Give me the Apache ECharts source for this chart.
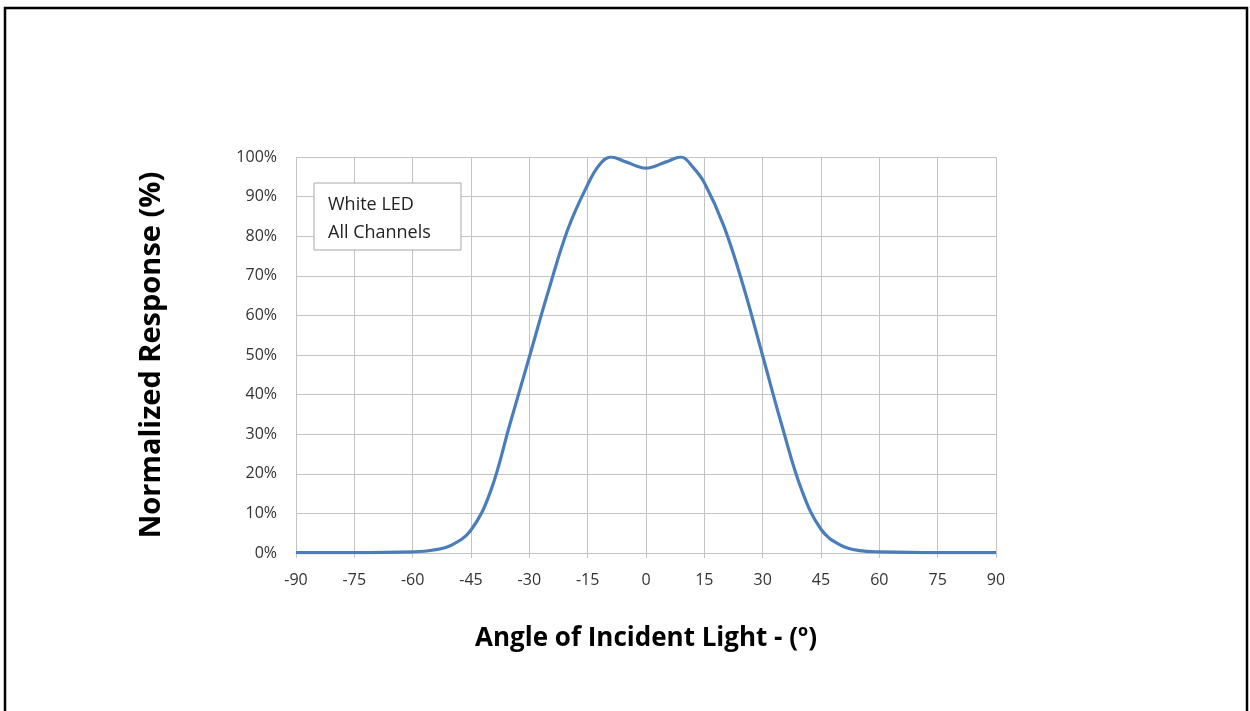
<!DOCTYPE html>
<html>
<head>
<meta charset="utf-8">
<script src="https://cdn.jsdelivr.net/npm/echarts@6/dist/echarts.min.js"></script>
<style>
html,body{margin:0;padding:0;background:#fff;}
#chart{width:1250px;height:711px;}
</style>
</head>
<body>
<div id="chart"></div>
<script>
var angles = [-90,-75,-60,-55,-50,-45,-40,-35,-30,-25,-20,-15,-12,-9,-5,0,5,9,12,15,20,25,30,35,40,45,50,55,60,75,90];
var response = [0.1,0.1,0.3,0.7,2.0,5.8,15.5,32.5,49.5,66.5,82,93,98,100,98.7,97.2,98.7,100,97.5,93.5,82.6,67.5,49.8,32,16,6,2.0,0.6,0.3,0.1,0.1];
var xTicks = {min:-90, max:90, step:15};
var yTicks = {min:0, max:100, step:10};
var seriesName = 'White LED All Channels';
var noteLines = ['White LED','All Channels'];
var xTitle = 'Angle of Incident Light - (º)';
var yTitle = 'Normalized Response (%)';

var points = angles.map(function(a,i){return [a,response[i]];});
var chart = echarts.init(document.getElementById('chart'), null, {renderer:'canvas'});
var gridColor = '#c3c3c3';
chart.setOption({
  animation:false,
  grid:{left:296,right:254,top:157,bottom:158,containLabel:false},
  xAxis:{
    type:'value',min:xTicks.min,max:xTicks.max,interval:xTicks.step,
    name:xTitle,nameLocation:'middle',nameGap:73,
    nameTextStyle:{fontFamily:'Open Sans',fontWeight:'bold',fontSize:26,color:'#000'},
    axisLine:{show:true,lineStyle:{color:gridColor,width:1}},
    axisTick:{show:true,length:5,lineStyle:{color:gridColor}},
    axisLabel:{margin:19,fontFamily:'Open Sans',fontSize:16,color:'#333'},
    splitLine:{show:true,lineStyle:{color:gridColor,width:1}}
  },
  yAxis:{
    type:'value',min:yTicks.min,max:yTicks.max,interval:yTicks.step,
    name:yTitle,nameLocation:'middle',nameGap:130,nameRotate:90,
    nameTextStyle:{fontFamily:'Open Sans',fontWeight:'bold',fontSize:29,color:'#000'},
    axisLine:{show:true,lineStyle:{color:gridColor,width:1}},
    axisTick:{show:false},
    axisLabel:{margin:19,fontFamily:'Open Sans',fontSize:16,color:'#333',formatter:'{value}%'},
    splitLine:{show:true,lineStyle:{color:gridColor,width:1}}
  },
  series:[{
    name:seriesName,type:'line',data:points,smooth:0.4,
    showSymbol:false,lineStyle:{color:'#4a7ebb',width:3.2},itemStyle:{color:'#4a7ebb'}
  }],
  graphic:[
    {type:'rect',shape:{x:5,y:8,width:1242,height:720},style:{fill:null,stroke:'#000',lineWidth:2.5},silent:true,z:100},
    {type:'rect',shape:{x:314,y:183,width:147,height:67},style:{fill:'#fff',stroke:'#a6a6a6',lineWidth:1},z:50},
    {type:'text',left:328,top:191,style:{text:noteLines.join('\n'),fontFamily:'Open Sans',fontSize:18,lineHeight:28,fill:'#222'},z:51}
  ]
});
</script>
</body>
</html>
